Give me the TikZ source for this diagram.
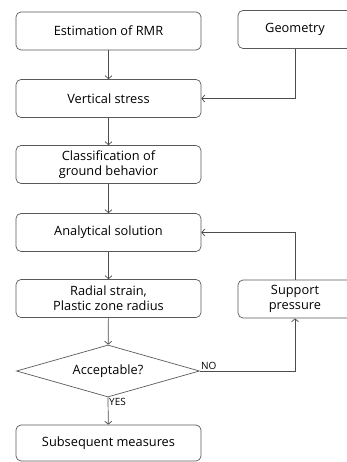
\documentclass[tikz,border=0pt]{standalone}
\usepackage{fontspec}
\setmainfont{Open Sans}
\usetikzlibrary{arrows.meta,shapes.geometric}
\begin{document}
\begin{tikzpicture}[x=1pt,y=-1pt]
\tikzstyle{b}=[draw=black!65,line width=0.7pt,rounded corners=5pt,minimum width=185pt,minimum height=38pt,align=center,inner sep=1pt,font=\fontsize{12.8}{15}\selectfont]
\tikzstyle{a}=[draw=black!70,line width=0.7pt,-{Straight Barb[length=3pt,width=7pt]}]
\tikzstyle{lab}=[font=\fontsize{10}{12}\selectfont,inner sep=1pt]
\useasboundingbox (0,0) rectangle (347,462);
\node[b] (rmr) at (108.5,31) {Estimation of RMR};
\node[b,minimum width=114pt] (geo) at (295,29.5) {Geometry};
\node[b] (vs) at (108.5,98.5) {Vertical stress};
\node[b] (cls) at (108.5,164.5) {Classification of\\ground behavior};
\node[b] (ana) at (108.5,232.5) {Analytical solution};
\node[b] (rad) at (108.5,298.5) {Radial strain,\\Plastic zone radius};
\node[b,minimum width=114pt] (sup) at (295,299) {Support\\pressure};
\node[b,rounded corners=0pt,diamond,aspect=3.5,minimum width=183pt,minimum height=52pt,inner sep=0pt] (acc) at (108,371) {Acceptable?};
\node[b,minimum height=36pt] (sub) at (108.5,443) {Subsequent measures};
\draw[a] (rmr) -- (vs);
\draw[a] (geo.south) |- (vs.east);
\draw[a] (vs) -- (cls);
\draw[a] (cls) -- (ana);
\draw[a] (ana) -- (rad);
\draw[a] (rad) -- (acc);
\draw[a] (sup.north) |- (ana.east);
\draw[a] (acc.east) -| (sup.south);
\draw[a] (acc.south) -- (sub);
\node[lab,anchor=south west] (no) at (acc.east) {NO};
\node[lab,anchor=north west] (yes) at (acc.south) {YES};
\end{tikzpicture}
\end{document}
